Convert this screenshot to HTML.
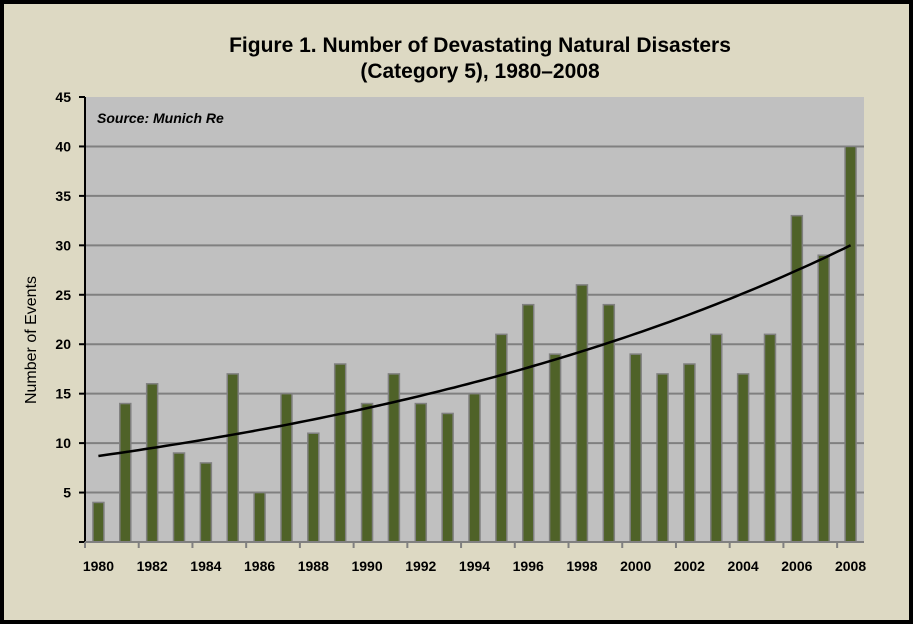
<!DOCTYPE html>
<html><head><meta charset="utf-8"><style>
body{margin:0;background:#fff;}
svg{display:block;font-family:"Liberation Sans",Arial,sans-serif;}
</style></head><body>
<svg id="c" width="913" height="624">
<rect x="2" y="2" width="909" height="620" fill="#ddd9c3" stroke="#000" stroke-width="4"/>
<text x="480" y="52" text-anchor="middle" font-size="21" font-weight="bold">Figure 1. Number of Devastating Natural Disasters</text>
<text x="480" y="78" text-anchor="middle" font-size="21" font-weight="bold">(Category 5), 1980–2008</text>
<rect x="85" y="97" width="779" height="445" fill="#c0c0c0"/>
<g id="grid"></g>
<g id="bars"></g>
<path id="trend" fill="none" stroke="#000" stroke-width="2.5"/>
<line x1="85" y1="97" x2="85" y2="542" stroke="#000" stroke-width="2"/>
<line x1="85" y1="542" x2="864" y2="542" stroke="#808080" stroke-width="2"/>
<g id="yt"></g><g id="xt"></g>
<text x="97" y="123" font-size="14" font-weight="bold" font-style="italic">Source: Munich Re</text>
<text transform="translate(36,340) rotate(-90)" text-anchor="middle" font-size="16">Number of Events</text>
</svg>
<script>
const years=[1980,1981,1982,1983,1984,1985,1986,1987,1988,1989,1990,1991,1992,1993,1994,1995,1996,1997,1998,1999,2000,2001,2002,2003,2004,2005,2006,2007,2008];
const events=[4,14,16,9,8,17,5,15,11,18,14,17,14,13,15,21,24,19,26,24,19,17,18,21,17,21,33,29,40];
const trendStart=8.7, trendEnd=30;
const yTicks=[0,5,10,15,20,25,30,35,40,45];
const NS="http://www.w3.org/2000/svg";
const L=85,R=864,T=97,B=542,YMAX=45;
const step=(R-L)/years.length;
const x=i=>L+step*(i+0.5);
const y=v=>B-(v/YMAX)*(B-T);
function mk(t,a,p){const e=document.createElementNS(NS,t);for(const k in a)e.setAttribute(k,a[k]);p.appendChild(e);return e;}
const grid=document.getElementById('grid'),yt=document.getElementById('yt'),xt=document.getElementById('xt'),bars=document.getElementById('bars');
yTicks.forEach(v=>{
 if(v>0&&v<YMAX){const g=mk('line',{x1:L,x2:R,y1:y(v),y2:y(v),stroke:'#808080','stroke-width':2},grid);
 
 }
 const tk=mk('line',{x1:L-6,x2:L,y1:y(v),y2:y(v),stroke:'#000','stroke-width':2},yt);
 
 
 if(v===0)return;
 const t=mk('text',{x:L-14,y:y(v)+5,'text-anchor':'end','font-size':14,'font-weight':'bold'},yt);t.textContent=v;
 
 
});
events.forEach((v,i)=>{
 const r=mk('rect',{x:x(i)-5.5,y:y(v),width:11,height:B-y(v),fill:'#4f6228',stroke:'#808080','stroke-width':1.5},bars);
 
 
});
for(let i=0;i<=years.length;i+=2){
 const tk=mk('line',{x1:L+step*i,x2:L+step*i,y1:B,y2:B+6,stroke:'#808080','stroke-width':2},xt);
 
 
}
years.forEach((yr,i)=>{ if(i%2)return;
 const t=mk('text',{x:x(i),y:571,'text-anchor':'middle','font-size':14,'font-weight':'bold'},xt);t.textContent=yr;
 
 
});
const n=years.length-1,k=Math.log(trendEnd/trendStart)/n;let d='';
for(let i=0;i<=n;i+=0.25){d+=(i?'L':'M')+x(i).toFixed(1)+','+y(trendStart*Math.exp(k*i)).toFixed(1);}
document.getElementById('trend').setAttribute('d',d);
</script>
</body></html>
